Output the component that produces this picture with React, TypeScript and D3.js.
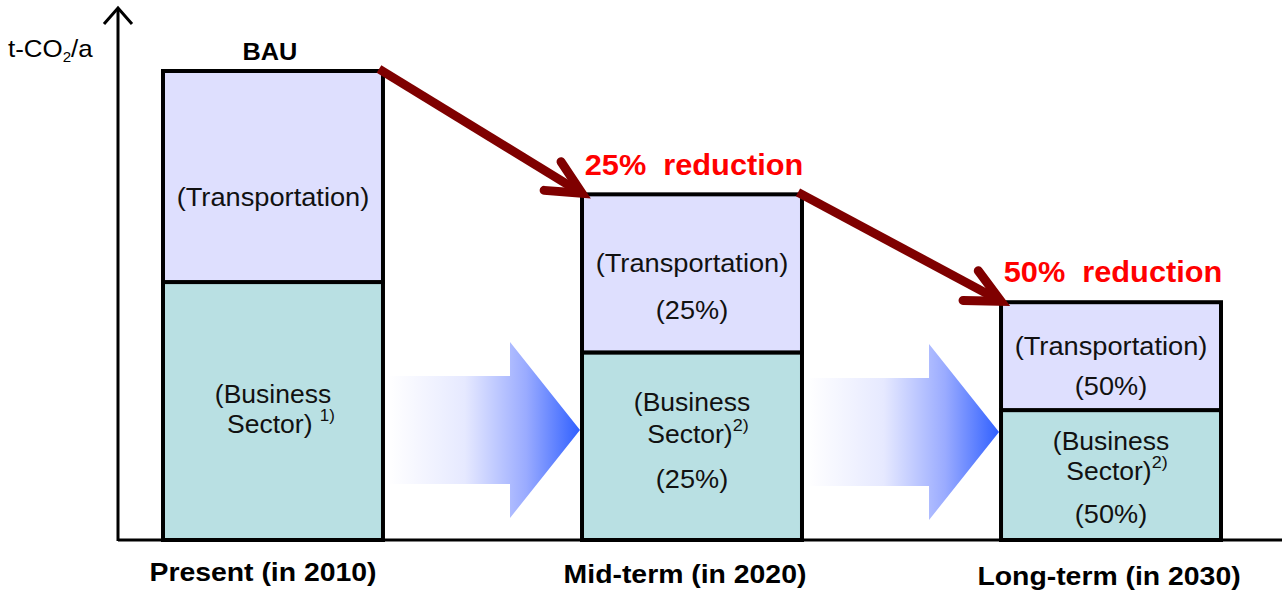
import React from "react";
import * as d3 from "d3";

const categories = ["Present (in 2010)", "Mid-term (in 2020)", "Long-term (in 2030)"];
const transportation = [45, 33.7, 23];
const business = [55, 40, 27.7];
const topLabels = ["BAU", "25%  reduction", "50%  reduction"];
const transportPct = [null, "(25%)", "(50%)"];
const businessPct = [null, "(25%)", "(50%)"];
const businessNotes = ["1)", "2)", "2)"];
const yAxisLabel = ["t-CO", "2", "/a"];

const W = 1282;
const H = 592;
const FONT = "'Liberation Sans', Arial, Helvetica, sans-serif";

function T(props: { x: number; y: number; sx?: number; children: React.ReactNode; [k: string]: any }) {
  const { x, y, sx = 1, children, ...rest } = props;
  return (
    <text transform={`translate(${x},${y}) scale(${sx},1)`} style={{ whiteSpace: "pre" }} {...rest}>
      {children}
    </text>
  );
}

export default function App() {
  const x = d3.scaleBand<string>().domain(categories).range([163, 1221]).paddingInner(0.475).paddingOuter(0);
  const y = d3.scaleLinear().domain([0, 100]).range([540, 71]);
  const bw = x.bandwidth();

  const bars = categories.map((c, i) => {
    const x0 = x(c)!;
    const b = business[i];
    const t = transportation[i];
    return { c, i, x0, cx: x0 + bw / 2, yBase: y(0), yMid: y(b), yTop: y(b + t) };
  });

  // offsets for text lines (relative to segment mid)
  const tOff = [[21], [-10, 37], [-10, 30]];
  const bOff = [[-17, 13], [-44, -12, 33], [-34, -4, 39]];
  const topLabelY = [60, 175, 282];
  const catY = [581, 583, 585];
  const catDx = [-10, -7, -2];

  const maroon = "#7f0000";
  const SX = 1.085;

  return (
    <svg width={W} height={H} style={{ position: "absolute", left: 0, top: 0, background: "#fff" }} fontFamily={FONT}>
      <defs>
        <linearGradient id="bluegrad" x1="0" x2="1" y1="0" y2="0">
          <stop offset="0" stopColor="#ffffff" />
          <stop offset="0.4" stopColor="#e6e9ff" />
          <stop offset="0.72" stopColor="#9aabff" />
          <stop offset="1" stopColor="#3060ff" />
        </linearGradient>
      </defs>
      <rect x={0} y={0} width={W} height={H} fill="#fff" />

      {/* blue gradient arrows */}
      {bars.slice(0, -1).map((b, i) => {
        const next = bars[i + 1];
        const x1 = b.x0 + bw + 5;
        const x2 = next.x0 - 2;
        const headW = 70;
        const cy = 430 + i * 2;
        const shaftH = 54;
        const headH = 88;
        const xb = x2 - headW;
        const d = `M${x1},${cy - shaftH}L${xb},${cy - shaftH}L${xb},${cy - headH}L${x2},${cy}L${xb},${cy + headH}L${xb},${cy + shaftH}L${x1},${cy + shaftH}Z`;
        return <path key={"ba" + i} d={d} fill="url(#bluegrad)" />;
      })}

      {/* x axis */}
      <line x1={118} x2={W} y1={540} y2={540} stroke="#000" strokeWidth={3} />
      {/* y axis */}
      <line x1={118} x2={118} y1={541} y2={9} stroke="#000" strokeWidth={3} />
      <polyline points="104,24 118,8 132,24" fill="none" stroke="#000" strokeWidth={3} />

      <T x={8} y={57} sx={1.08} fontSize={24} fill="#000">
        {yAxisLabel[0]}
        <tspan fontSize={14} dy={5}>{yAxisLabel[1]}</tspan>
        <tspan dy={-5}>{yAxisLabel[2]}</tspan>
      </T>

      {/* bars */}
      {bars.map((b) => (
        <g key={b.c}>
          <rect x={b.x0} y={b.yMid} width={bw} height={b.yBase - b.yMid} fill="#b9e0e3" stroke="#000" strokeWidth={4} />
          <rect x={b.x0} y={b.yTop} width={bw} height={b.yMid - b.yTop} fill="#dedffe" stroke="#000" strokeWidth={4} />
        </g>
      ))}

      {/* bar text */}
      {bars.map((b) => {
        const i = b.i;
        const tm = (b.yTop + b.yMid) / 2;
        const bm = (b.yMid + b.yBase) / 2;
        return (
          <g key={"t" + b.c} fontSize={25} fill="#111" textAnchor="middle" dominantBaseline="central">
            <T x={b.cx} y={tm + tOff[i][0]} sx={1.09} fill="#111">(Transportation)</T>
            {transportPct[i] && <T x={b.cx} y={tm + tOff[i][1]} sx={SX} fill="#111">{transportPct[i]}</T>}
            <T x={b.cx} y={bm + bOff[i][0]} sx={1.06} fill="#111">(Business</T>
            <T x={b.cx + (i === 0 ? 8 : 6)} y={bm + bOff[i][1]} sx={1.06} fill="#111">
              {i === 0 ? "Sector) " : "Sector)"}
              <tspan fontSize={i === 0 ? 16 : 17} dy={-9}>{businessNotes[i]}</tspan>
            </T>
            {businessPct[i] && <T x={b.cx} y={bm + bOff[i][2]} sx={SX} fill="#111">{businessPct[i]}</T>}
          </g>
        );
      })}

      {/* maroon arrows */}
      {bars.slice(0, -1).map((b, i) => {
        const next = bars[i + 1];
        const sx = b.x0 + bw - 4;
        const sy = b.yTop - 2;
        const ex = next.x0;
        const ey = next.yTop - 1;
        const ang = Math.atan2(ey - sy, ex - sx);
        const back = ang + Math.PI;
        const L = 38;
        const a1 = back + (25 * Math.PI) / 180;
        const a2 = back - (27 * Math.PI) / 180;
        const p1 = [ex + L * Math.cos(a1), ey + L * Math.sin(a1)];
        const p2 = [ex + L * Math.cos(a2), ey + L * Math.sin(a2)];
        const lx = ex - 6 * Math.cos(ang);
        const ly = ey - 6 * Math.sin(ang);
        return (
          <g key={"ma" + i} stroke={maroon} strokeWidth={9} fill="none">
            <line x1={sx} y1={sy} x2={lx} y2={ly} strokeLinecap="butt" />
            <polyline points={`${p1[0]},${p1[1]} ${ex},${ey} ${p2[0]},${p2[1]}`} strokeLinecap="round" strokeLinejoin="miter" />
          </g>
        );
      })}

      {/* top labels */}
      {bars.map((b, i) => (
        <T
          key={"tl" + i}
          x={i === 0 ? b.cx - 3 : b.cx + 2}
          y={topLabelY[i]}
          sx={i === 0 ? 1.1 : 1.06}
          textAnchor="middle"
          fontWeight="bold"
          fontSize={i === 0 ? 23 : 29}
          fill={i === 0 ? "#000" : "#ff0000"}
        >
          {topLabels[i]}
        </T>
      ))}

      {/* category labels */}
      {bars.map((b, i) => (
        <T key={"cl" + i} x={b.cx + catDx[i]} y={catY[i]} sx={1.135} textAnchor="middle" fontWeight="bold" fontSize={25} fill="#000">
          {b.c}
        </T>
      ))}
    </svg>
  );
}
